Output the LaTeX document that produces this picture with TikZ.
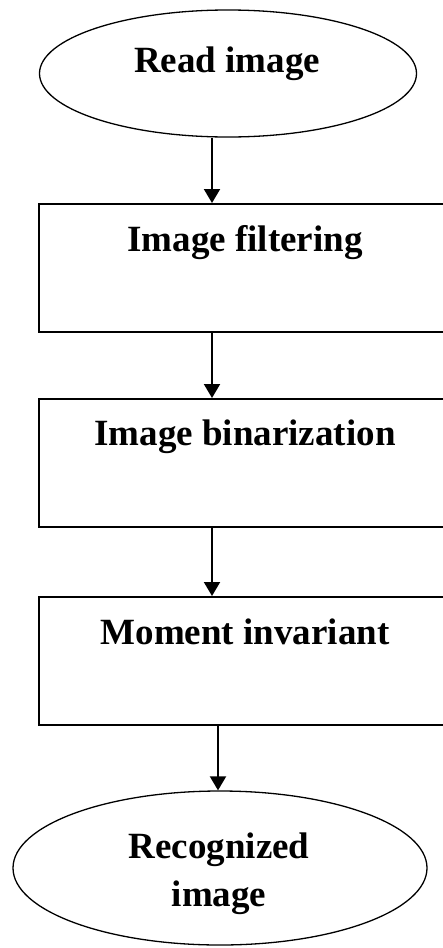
\documentclass[tikz,border=0pt]{standalone}
\usepackage{fontspec}
\setmainfont{Liberation Serif}
\usetikzlibrary{arrows.meta,shapes.geometric}
\begin{document}
\begin{tikzpicture}[x=1pt,y=-1pt,
  oval/.style={draw,line width=1.3pt,ellipse,inner sep=0pt},
  procbox/.style={draw,line width=2pt,rectangle,inner sep=0pt},
  lbl/.style={font=\bfseries\fontsize{37}{48}\selectfont,anchor=base,inner sep=0pt},
  flow/.style={line width=2pt,-{Triangle[length=14pt,width=16pt]}}]
\useasboundingbox (0,0) rectangle (443,948);
\clip (0,0) rectangle (443,948);
% nodes
\node[oval,minimum width=377pt,minimum height=127pt] (start) at (228,73.5) {};
\node[lbl] (tstart) at (227,72) {Read image};
\node[procbox,minimum width=421pt,minimum height=128pt] (b1) at (249.5,268) {};
\node[lbl] (t1) at (245,251) {Image filtering};
\node[procbox,minimum width=421pt,minimum height=128pt] (b2) at (249.5,463) {};
\node[lbl] (t2) at (245,445) {Image binarization};
\node[procbox,minimum width=421pt,minimum height=128pt] (b3) at (249.5,661) {};
\node[lbl] (t3) at (245,644) {Moment invariant};
\node[oval,minimum width=414pt,minimum height=154pt] (stop) at (220,868) {};
\node[lbl] (tstop1) at (219,858) {Recognized};
\node[lbl] (tstop2) at (219,906) {image};
% connector columns
\coordinate (ca) at (212,0);
\coordinate (cb) at (218,0);
\draw[flow] (start.south -| ca) -- (b1.north -| ca);
\draw[flow] (b1.south -| ca) -- (b2.north -| ca);
\draw[flow] (b2.south -| ca) -- (b3.north -| ca);
\draw[flow] (b3.south -| cb) -- (stop.north -| cb);
\end{tikzpicture}
\end{document}
